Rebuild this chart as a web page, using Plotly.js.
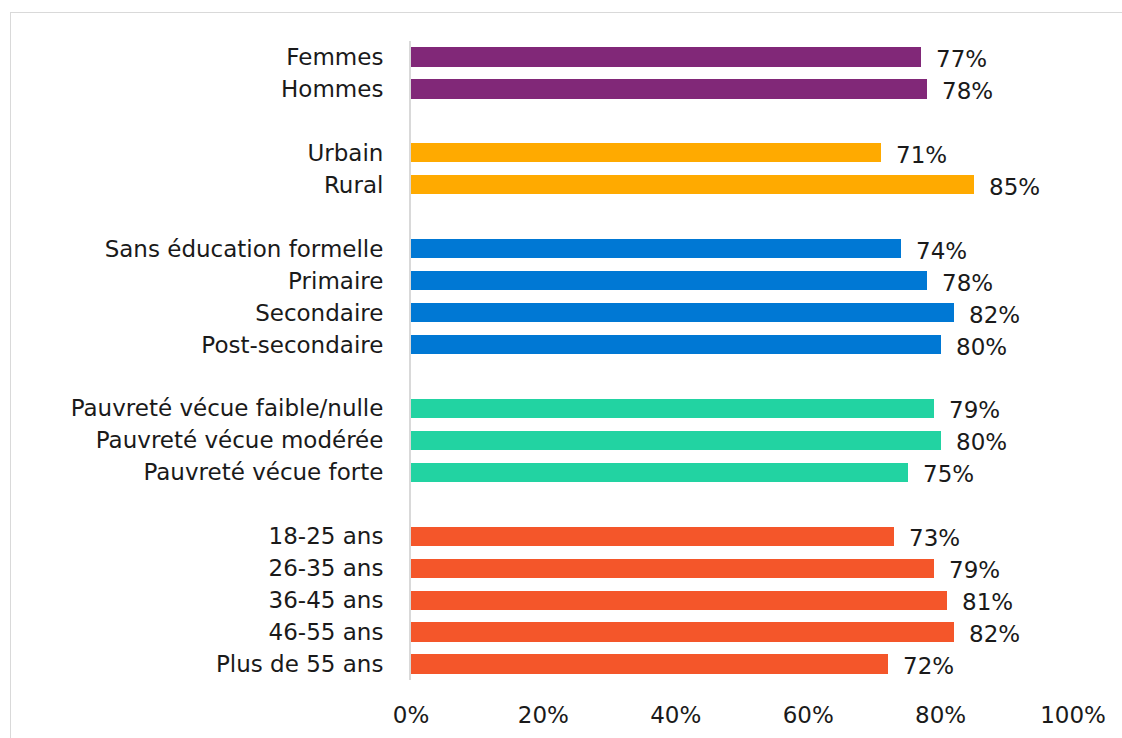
<!DOCTYPE html>
<html><head><meta charset="utf-8">
<script src="https://cdn.plot.ly/plotly-3.0.1.min.js"></script>
<style>
html,body{margin:0;padding:0;background:#fff;overflow:hidden}
#chart{width:1122px;height:738px}
#frame{position:absolute;left:10px;top:12px;width:1200px;height:800px;border:1.5px solid #d9d9d9;pointer-events:none}
</style></head>
<body>
<div id="chart"></div>
<div id="frame"></div>
<script>
const sexeLabels = ["Femmes", "Hommes"];
const sexeValues = [77, 78];
const milieuLabels = ["Urbain", "Rural"];
const milieuValues = [71, 85];
const educLabels = ["Sans éducation formelle", "Primaire", "Secondaire", "Post-secondaire"];
const educValues = [74, 78, 82, 80];
const pauvLabels = ["Pauvreté vécue faible/nulle", "Pauvreté vécue modérée", "Pauvreté vécue forte"];
const pauvValues = [79, 80, 75];
const ageLabels = ["18-25 ans", "26-35 ans", "36-45 ans", "46-55 ans", "Plus de 55 ans"];
const ageValues = [73, 79, 81, 82, 72];
const xTickVals = [0, 20, 40, 60, 80, 100];
const xTickText = ["0%", "20%", "40%", "60%", "80%", "100%"];

const groups = [
  {labels: sexeLabels, values: sexeValues, color: "#812878"},
  {labels: milieuLabels, values: milieuValues, color: "#FFAA00"},
  {labels: educLabels, values: educValues, color: "#0078D4"},
  {labels: pauvLabels, values: pauvValues, color: "#22D3A2"},
  {labels: ageLabels, values: ageValues, color: "#F4562A"}
];

const FONT = "DejaVu Sans";
const FS = 23;
const traces = [];
const annotations = [];
const tickvals = [], ticktext = [];
let pos = 0;
groups.forEach((g, gi) => {
  const ys = g.labels.map((l, i) => pos + i);
  g.labels.forEach((l, i) => { tickvals.push(ys[i]); ticktext.push(l); });
  traces.push({
    type: "bar", orientation: "h",
    x: g.values, y: ys,
    marker: {color: g.color},
    width: 0.6,
    hoverinfo: "skip"
  });
  g.values.forEach((v, i) => {
    annotations.push({
      x: v, y: ys[i], xref: "x", yref: "y",
      text: v + "%", showarrow: false,
      xanchor: "left", yanchor: "middle", xshift: 13, yshift: -2,
      font: {family: FONT, size: FS, color: "#1a1a1a"}
    });
  });
  pos += g.labels.length + 1;
});

const layout = {
  width: 1122, height: 738,
  margin: {l: 411, r: 49, t: 41, b: 58},
  paper_bgcolor: "#fff", plot_bgcolor: "#fff",
  showlegend: false,
  bargap: 0,
  font: {family: FONT, size: FS, color: "#1a1a1a"},
  xaxis: {
    range: [0, 100], tickvals: xTickVals, ticktext: xTickText,
    showgrid: false, zeroline: false, showline: false,
    ticks: "outside", ticklen: 14, tickcolor: "rgba(0,0,0,0)",
    tickfont: {family: FONT, size: FS, color: "#1a1a1a"},
    fixedrange: true
  },
  yaxis: {
    range: [pos - 1.5, -0.5],
    tickvals: tickvals, ticktext: ticktext,
    showgrid: false, zeroline: false,
    showline: true, linecolor: "#d9d9d9", linewidth: 2,
    ticks: "outside", ticklen: 21, tickcolor: "rgba(0,0,0,0)",
    tickfont: {family: FONT, size: FS, color: "#1a1a1a"},
    fixedrange: true
  },
  annotations: annotations
};

Plotly.newPlot("chart", traces, layout, {displayModeBar: false, staticPlot: true});
</script>
</body></html>
